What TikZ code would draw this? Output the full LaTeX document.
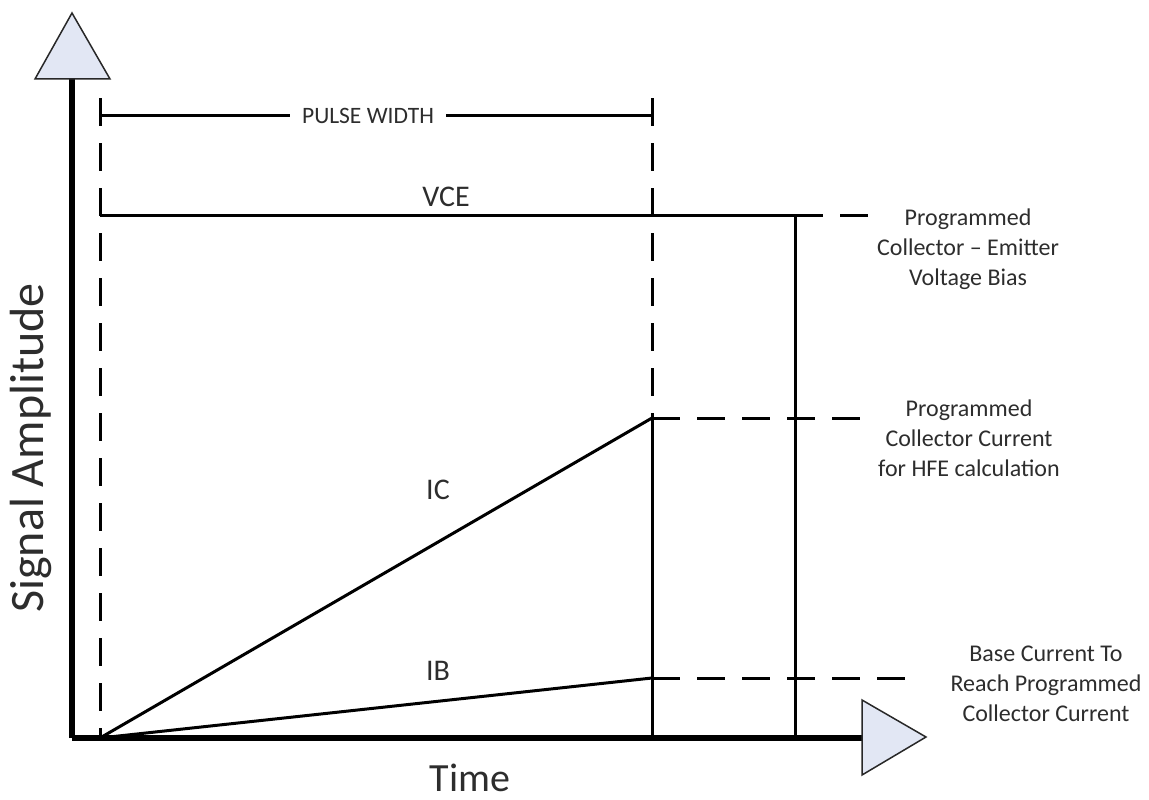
\documentclass[tikz,border=0pt]{standalone}
\usepackage{fontspec}
\setmainfont{Carlito}
\definecolor{txt}{RGB}{45,45,45}
\definecolor{tri}{RGB}{226,231,244}
\definecolor{triline}{RGB}{40,40,40}
\begin{document}
\begin{tikzpicture}[x=1pt,y=-1pt,
  axis/.style={line width=6pt,black},
  ln/.style={line width=3pt,black},
  dsh/.style={line width=3pt,black,dash pattern=on 28pt off 17pt},
  arrowtri/.style={fill=tri,draw=triline,line width=1.5pt,line join=miter},
  lbl/.style={text=txt,font=\fontsize{30}{34}\selectfont,inner sep=0pt},
  note/.style={text=txt,font=\fontsize{24}{30}\selectfont,align=center,inner sep=0pt}]
\useasboundingbox (0,0) rectangle (1149,800);
% coordinates
\coordinate (O) at (72,738);
\coordinate (Ytop) at (72,79);
\coordinate (Xend) at (862,738);
\coordinate (S) at (100,738);
\coordinate (Ltop) at (100,98);
\coordinate (Rtop) at (652,98);
\coordinate (Rmid) at (652,418);
\coordinate (Rbot) at (652,738);
\coordinate (Pl) at (100,115);
\coordinate (Pr) at (652,115);
\coordinate (V0) at (100,215);
\coordinate (V1) at (795,215);
\coordinate (V2) at (870,215);
\coordinate (Vb) at (795,738);
\coordinate (ICe) at (652,418);
\coordinate (ICd) at (862,418);
\coordinate (IBe) at (652,678);
\coordinate (IBd) at (907,678);
% axes
\draw[axis] (O) -- (Ytop);
\draw[axis] (O) -- (Xend);
% dashed verticals
\draw[dsh] (Ltop) -- (S);
\draw[dsh] (Rtop) -- (Rmid);
\draw[ln] (Rmid) -- (Rbot);
% pulse width
\draw[ln] (Pl) -- (Pr);
\node[fill=white,inner xsep=12pt,inner ysep=2pt,text=txt,font=\fontsize{23.5}{28}\selectfont] (pw) at (368,116) {PULSE WIDTH};
% VCE
\draw[ln] (V0) -- (V1);
\draw[dsh] (V1) -- (V2);
\draw[ln] (V1) -- (Vb);
\node[lbl] (vce) at (446,197) {VCE};
% IC
\draw[ln] (S) -- (ICe);
\draw[dsh] (ICe) -- (ICd);
\node[lbl] (ic) at (438,490) {IC};
% IB
\draw[ln] (S) -- (IBe);
\draw[dsh] (IBe) -- (IBd);
\node[lbl] (ib) at (438,671) {IB};
% triangles
\draw[arrowtri] (35,79) -- (110,79) -- (72,13) -- cycle;
\draw[arrowtri] (862,700) -- (862,775) -- (926,737) -- cycle;
% notes
\node[note] (n1) at (968,249) {Programmed\\Collector -- Emitter\\Voltage Bias};
\node[note] (n2) at (969,438) {Programmed\\Collector Current\\for HFE calculation};
\node[note] (n3) at (1046,684) {Base Current To\\Reach Programmed\\Collector Current};
% axis labels
\node[text=txt,font=\fontsize{40}{48}\selectfont,inner sep=0pt] (time) at (470,778) {Time};
\node[text=txt,font=\fontsize{48}{56}\selectfont,inner sep=0pt,rotate=90] (amp) at (31,448) {Signal Amplitude};
\end{tikzpicture}
\end{document}
